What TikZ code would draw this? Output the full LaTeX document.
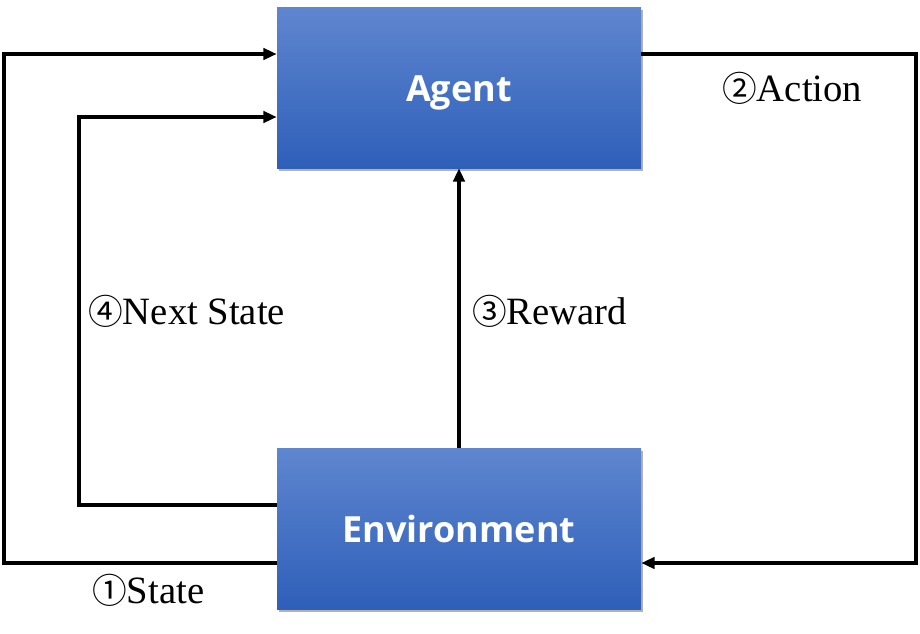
\documentclass[tikz,border=0pt]{standalone}
\usepackage{fontspec}
\setmainfont{Liberation Serif}
\newfontfamily\boxfont{Open Sans}
\newfontfamily\circfont{Noto Sans CJK KR}
\usetikzlibrary{shadows,arrows.meta}
\definecolor{boxtop}{HTML}{5F86CF}
\definecolor{boxbot}{HTML}{2E5FB9}
\tikzset{
  x=0.75pt, y=-0.75pt,
  blockbox/.style={rectangle, minimum width=364*0.75pt, minimum height=161*0.75pt,
    top color=boxtop, bottom color=boxbot, draw=none, inner sep=0pt,
    text height=21pt, text depth=0pt,
    drop shadow={shadow xshift=1.5pt, shadow yshift=-2pt, fill=black, opacity=0.3},
    text=white, font=\boxfont\bfseries\fontsize{27}{30}\selectfont},
  flow/.style={line width=2.6pt, -{Triangle[length=10pt,width=8.5pt]}},
  lbl/.style={font=\fontsize{29}{34}\selectfont, inner sep=0pt, anchor=west},
}
\newcommand{\circnum}[1]{{\circfont\fontsize{26}{30}\selectfont #1}}
\begin{document}
\begin{tikzpicture}
\useasboundingbox (0,0) rectangle (920,633);
\node[blockbox] (agent) at (459,87.5) {Agent};
\node[blockbox] (env) at (459,528.5) {Environment};
% corners
\coordinate (ol1) at (4,54);
\coordinate (ol2) at (4,563);
\coordinate (il1) at (79,117);
\coordinate (il2) at (79,505);
\coordinate (or1) at (916,54);
\coordinate (or2) at (916,563);
% state: outer left loop
\draw[flow] (env.west |- ol2) -- (ol2) -- (ol1) -- (agent.west |- ol1);
% next state: inner left loop
\draw[flow] (env.west |- il2) -- (il2) -- (il1) -- (agent.west |- il1);
% action: right loop
\draw[flow] (agent.east |- or1) -- (or1) -- (or2) -- (env.east |- or2);
% reward
\draw[flow] (env.north) -- (agent.south);
% labels
\node[lbl] (lstate) at (92,590) {\circnum{①}State};
\node[lbl] (laction) at (722,88) {\circnum{②}Action};
\node[lbl] (lreward) at (472,311) {\circnum{③}Reward};
\node[lbl] (lnext) at (88,311) {\circnum{④}Next State};
\end{tikzpicture}
\end{document}
